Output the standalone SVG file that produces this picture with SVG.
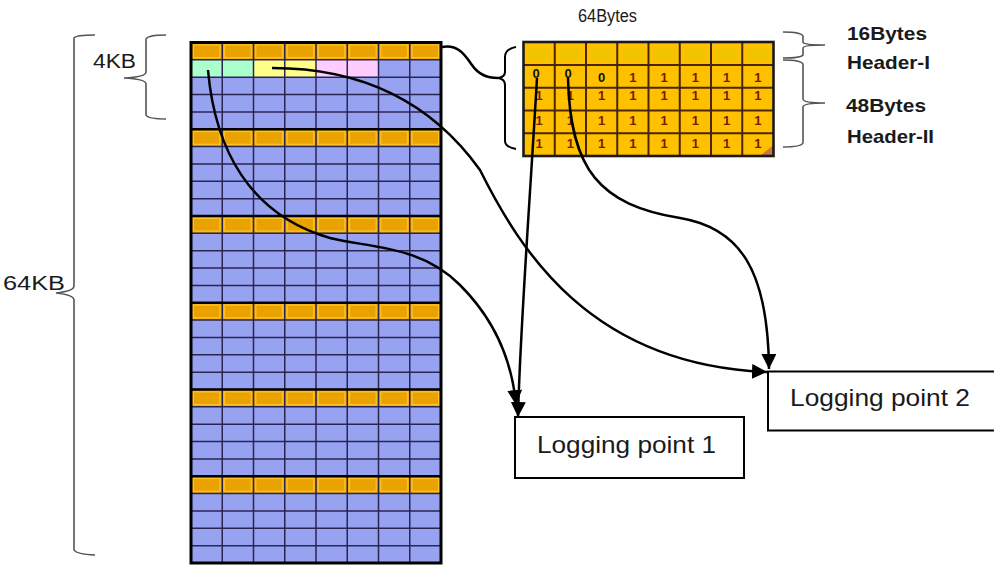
<svg xmlns="http://www.w3.org/2000/svg" width="994" height="567" viewBox="0 0 994 567">
<style>
.lbl{font-family:"Liberation Sans",Arial,sans-serif;fill:#1a1a1a}
.blab{font-family:"Liberation Sans",Arial,sans-serif;font-weight:bold;fill:#1a1a1a;font-size:19px}
.d1{font-family:"Liberation Sans",Arial,sans-serif;font-weight:bold;font-size:13px;fill:#7a1a00;text-anchor:middle}
.d0{font-family:"Liberation Sans",Arial,sans-serif;font-weight:bold;font-size:13px;fill:#111;text-anchor:middle}
.thin{stroke:#2b2552;stroke-width:1.5;fill:none}
.thick{stroke:#000;stroke-width:2.6;fill:none}
.brace{stroke:#555;stroke-width:1.6;fill:none}
.conn{stroke:#000;stroke-width:2.5;fill:none}
.hcell{fill:#F2C400}
.box{fill:#fff;stroke:#000;stroke-width:2}
</style>
<defs>
<pattern id="orow" patternUnits="userSpaceOnUse" x="191" y="42.5" width="31.25" height="17.35">
<rect x="0" y="0" width="31.25" height="17.35" fill="#E9A200"/>
<rect x="2.2" y="2.2" width="26.85" height="12.95" fill="none" stroke="#FFC52A" stroke-width="1.4"/>
</pattern>
<marker id="ah" viewBox="0 0 10 10" refX="10" refY="5" markerWidth="15" markerHeight="15" markerUnits="userSpaceOnUse" orient="auto">
<path d="M0,0 L10,5 L0,10 z" fill="#000"/>
</marker>
</defs>

<g id="memory-grid">
<rect x="191" y="42.5" width="250" height="520.5" fill="#97A2F0"/>
<rect x="191" y="42.5" width="250" height="17.35" fill="url(#orow)"/>
<rect x="191" y="129.25" width="250" height="17.35" fill="url(#orow)"/>
<rect x="191" y="216" width="250" height="17.35" fill="url(#orow)"/>
<rect x="191" y="302.75" width="250" height="17.35" fill="url(#orow)"/>
<rect x="191" y="389.5" width="250" height="17.35" fill="url(#orow)"/>
<rect x="191" y="476.25" width="250" height="17.35" fill="url(#orow)"/>
<rect x="191" y="59.85" width="62.5" height="17.35" fill="#AAFFCC"/>
<rect x="253.5" y="59.85" width="62.5" height="17.35" fill="#FFFF88"/>
<rect x="316" y="59.85" width="62.5" height="17.35" fill="#FFCCFF"/>
<path class="thin" d="M222.25 42.5V563M253.5 42.5V563M284.75 42.5V563M316 42.5V563M347.25 42.5V563M378.5 42.5V563M409.75 42.5V563"/>
<path class="thin" d="M191 59.85H441M191 77.2H441M191 94.55H441M191 111.9H441M191 146.6H441M191 163.95H441M191 181.3H441M191 198.65H441M191 233.35H441M191 250.7H441M191 268.05H441M191 285.4H441M191 320.1H441M191 337.45H441M191 354.8H441M191 372.15H441M191 406.85H441M191 424.2H441M191 441.55H441M191 458.9H441M191 493.6H441M191 510.95H441M191 528.3H441M191 545.65H441"/>
<path class="thick" d="M191 129.25H441M191 216H441M191 302.75H441M191 389.5H441M191 476.25H441"/>
<rect x="191" y="42.5" width="250" height="520.5" fill="none" stroke="#000" stroke-width="3"/>
</g>

<g id="header-block">
<rect x="523.5" y="42" width="250" height="114" fill="#FFC000"/>
<rect class="hcell" x="528" y="47" width="22" height="14"/>
<rect class="hcell" x="559.5" y="47" width="22" height="14"/>
<rect class="hcell" x="590.5" y="47" width="22" height="14"/>
<rect class="hcell" x="622" y="47" width="22" height="14"/>
<rect class="hcell" x="653" y="47" width="22" height="14"/>
<rect class="hcell" x="684.5" y="47" width="22" height="14"/>
<rect class="hcell" x="715.5" y="47" width="22" height="14"/>
<rect class="hcell" x="747" y="47" width="22" height="14"/>
<path d="M760 156 L773.5 145 L773.5 156 z" fill="#C8783E"/>
<path d="M554.75 42V156M586 42V156M617.25 42V156M648.5 42V156M679.75 42V156M711 42V156M742.25 42V156M523.5 65H773.5M523.5 87.8H773.5M523.5 110.5H773.5M523.5 133.3H773.5" stroke="#4a2600" stroke-width="2" fill="none"/>
<rect x="523.5" y="42" width="250" height="114" fill="none" stroke="#1a1a1a" stroke-width="2.6"/>
<text class="d0" x="536" y="77.5">0</text>
<text class="d0" x="568" y="77.5">0</text>
<text class="d0" x="601.6" y="81.5">0</text>
<text class="d1" x="632.9" y="81.5">1</text>
<text class="d1" x="664.1" y="81.5">1</text>
<text class="d1" x="695.4" y="81.5">1</text>
<text class="d1" x="726.6" y="81.5">1</text>
<text class="d1" x="757.9" y="81.5">1</text>
<text class="d1" x="539.1" y="100">1</text>
<text class="d1" x="570.4" y="100">1</text>
<text class="d1" x="601.6" y="100">1</text>
<text class="d1" x="632.9" y="100">1</text>
<text class="d1" x="664.1" y="100">1</text>
<text class="d1" x="695.4" y="100">1</text>
<text class="d1" x="726.6" y="100">1</text>
<text class="d1" x="757.9" y="100">1</text>
<text class="d1" x="539.1" y="124.5">1</text>
<text class="d1" x="570.4" y="124.5">1</text>
<text class="d1" x="601.6" y="124.5">1</text>
<text class="d1" x="632.9" y="124.5">1</text>
<text class="d1" x="664.1" y="124.5">1</text>
<text class="d1" x="695.4" y="124.5">1</text>
<text class="d1" x="726.6" y="124.5">1</text>
<text class="d1" x="757.9" y="124.5">1</text>
<text class="d1" x="539.1" y="148">1</text>
<text class="d1" x="570.4" y="148">1</text>
<text class="d1" x="601.6" y="148">1</text>
<text class="d1" x="632.9" y="148">1</text>
<text class="d1" x="664.1" y="148">1</text>
<text class="d1" x="695.4" y="148">1</text>
<text class="d1" x="726.6" y="148">1</text>
<text class="d1" x="757.9" y="148">1</text>
</g>

<g id="braces">
<path class="brace" d="M95 35 Q76 35 74 38 L74 286 Q74 291 56 293 Q74 295 74 300 L74 550 Q76 554 95 555"/>
<path class="brace" d="M166 35 Q148 35 146 39 L146 72 Q146 77 124 78 Q146 79 146 84 L146 115 Q148 119 166 119"/>
<path class="brace" d="M783 32 Q801 32 803 36 L803 42 Q803 45 825 45 Q803 45 803 48 L803 55 Q801 58 783 58"/>
<path class="brace" d="M783 60 Q801 60 803 64 L803 99 Q803 103 825 103 Q803 103 803 107 L803 143 Q801 147 783 147"/>
<path d="M516 47 Q505 49 505 57 L505 72 Q505 77 498 78 Q505 79 505 85 L505 141 Q505 147 516 149" fill="none" stroke="#000" stroke-width="2"/>
</g>

<g id="labels">
<text class="lbl" x="578" y="22" font-size="18" textLength="59" lengthAdjust="spacingAndGlyphs">64Bytes</text>
<text class="lbl" x="93" y="68" font-size="20" textLength="43" lengthAdjust="spacingAndGlyphs">4KB</text>
<text class="lbl" x="3" y="290" font-size="20" textLength="62" lengthAdjust="spacingAndGlyphs">64KB</text>
<text class="blab" x="847" y="40" textLength="80" lengthAdjust="spacingAndGlyphs">16Bytes</text>
<text class="blab" x="847" y="69" textLength="83" lengthAdjust="spacingAndGlyphs">Header-I</text>
<text class="blab" x="846" y="112" textLength="80" lengthAdjust="spacingAndGlyphs">48Bytes</text>
<text class="blab" x="847" y="143" textLength="87" lengthAdjust="spacingAndGlyphs">Header-II</text>
</g>

<g id="lp1">
<rect class="box" x="515" y="417" width="229" height="61"/>
<text class="lbl" x="537" y="453" font-size="24" textLength="179" lengthAdjust="spacingAndGlyphs">Logging point 1</text>
</g>

<g id="lp2">
<rect class="box" x="768" y="371.5" width="232" height="59"/>
<text class="lbl" x="790" y="406" font-size="24" textLength="180" lengthAdjust="spacingAndGlyphs">Logging point 2</text>
</g>

<g id="connectors">
<path class="conn" d="M442 47 C458 44 465 55 472 65 C478 74 488 78 498 78"/>
<path class="conn" marker-end="url(#ah)" d="M208 70 C215 150 250 215 330 238 C370 248 420 245 460 285 C495 320 512 360 516 405"/>
<path class="conn" marker-end="url(#ah)" d="M537 78 C530 200 520 330 518 417"/>
<path class="conn" marker-end="url(#ah)" d="M272 68 C360 68 430 100 480 170 C520 250 590 365 767 372"/>
<path class="conn" marker-end="url(#ah)" d="M568 78 C570 170 600 205 680 218 C740 228 768 270 769 369"/>
</g>
</svg>
